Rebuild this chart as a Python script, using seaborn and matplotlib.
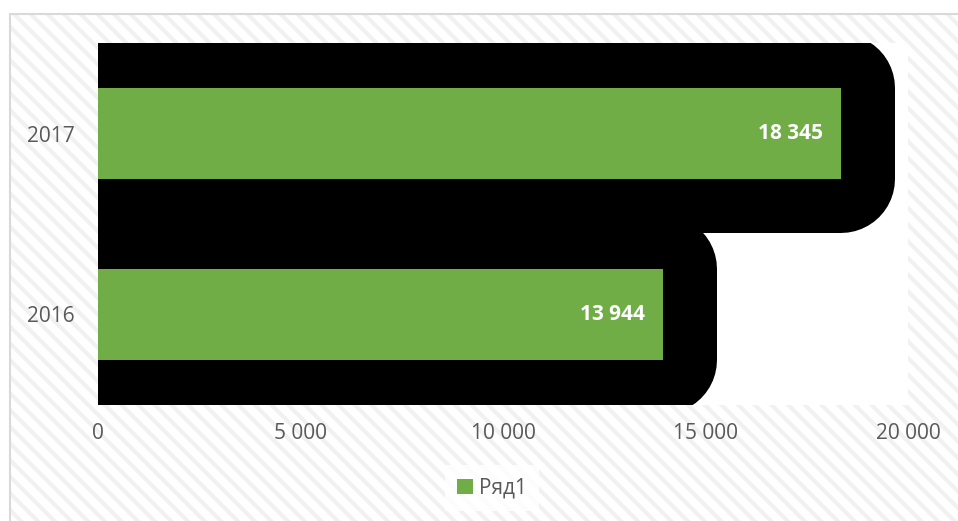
import matplotlib
matplotlib.use("Agg")
import matplotlib.pyplot as plt
import matplotlib.patheffects as pe
from matplotlib.patches import Rectangle
from matplotlib.ticker import FuncFormatter
import seaborn as sns
import pandas as pd

categories = ["2017", "2016"]
values = [18345, 13944]
series_name = "Ряд1"
x_ticks = [0, 5000, 10000, 15000, 20000]

GREEN = "#70AD47"
TXT = "#595959"

sns.set_theme(style="white")
plt.rcParams["font.family"] = ["Open Sans", "DejaVu Sans"]
plt.rcParams["hatch.linewidth"] = 3.0

fig = plt.figure(figsize=(9.58, 5.21), dpi=100)
fig.patch.set_facecolor("white")
bg_rect = (10 / 958, -0.05)
bg_w, bg_h = 1.0, 1 - 14 / 521 + 0.05
hatch_bg = Rectangle(bg_rect, bg_w, bg_h, transform=fig.transFigure,
                     facecolor="white", edgecolor="#f1f1f1", linewidth=0,
                     hatch="\\\\", zorder=-10)
border = Rectangle(bg_rect, bg_w, bg_h, transform=fig.transFigure,
                   facecolor="none", edgecolor="#d9d9d9", linewidth=1.5, zorder=-9)
fig.patches.extend([hatch_bg, border])

ax = fig.add_axes([98 / 958, 1 - 405 / 521, 810 / 958, 362 / 521])
ax.set_facecolor("white")

df = pd.DataFrame({"year": categories, "value": values})
sns.barplot(data=df, x="value", y="year", order=categories, orient="h",
            color=GREEN, width=0.5, saturation=1, linewidth=0, ax=ax)

glow_px = 54
for p in ax.patches:
    p.set_linewidth(0)
    p.set_path_effects([
        pe.Stroke(linewidth=2 * glow_px * 72 / 100, foreground="black",
                  joinstyle="round", capstyle="round"),
        pe.Normal(),
    ])
    p.set_clip_on(True)

for i, v in enumerate(values):
    ax.annotate(f"{v:,}".replace(",", " "), xy=(v, i), xytext=(-13, 0),
                textcoords="offset points", ha="right", va="center",
                color="white", fontsize=15, fontweight="bold")

ax.set_xlim(0, 20000)
ax.set_ylim(1.5, -0.5)
ax.set_xticks(x_ticks)
ax.xaxis.set_major_formatter(FuncFormatter(lambda x, _: f"{int(x):,}".replace(",", " ")))
ax.tick_params(axis="both", length=0, labelsize=15, labelcolor=TXT)
ax.tick_params(axis="x", pad=13)
ax.tick_params(axis="y", pad=17)
ax.set_xlabel("")
ax.set_ylabel("")
for s in ax.spines.values():
    s.set_visible(False)

handle = Rectangle((0, 0), 1, 1, facecolor=GREEN, edgecolor="none")
leg = fig.legend([handle], [series_name], loc="center", bbox_to_anchor=(492 / 958, 1 - 488 / 521),
                 frameon=True, fontsize=15, handlelength=0.75, handleheight=0.75,
                 handletextpad=0.3, borderpad=0.6, fancybox=False)
leg.get_frame().set_facecolor("white")
leg.get_frame().set_edgecolor("none")
for t in leg.get_texts():
    t.set_color(TXT)

fig.savefig("out.png", dpi=100)
